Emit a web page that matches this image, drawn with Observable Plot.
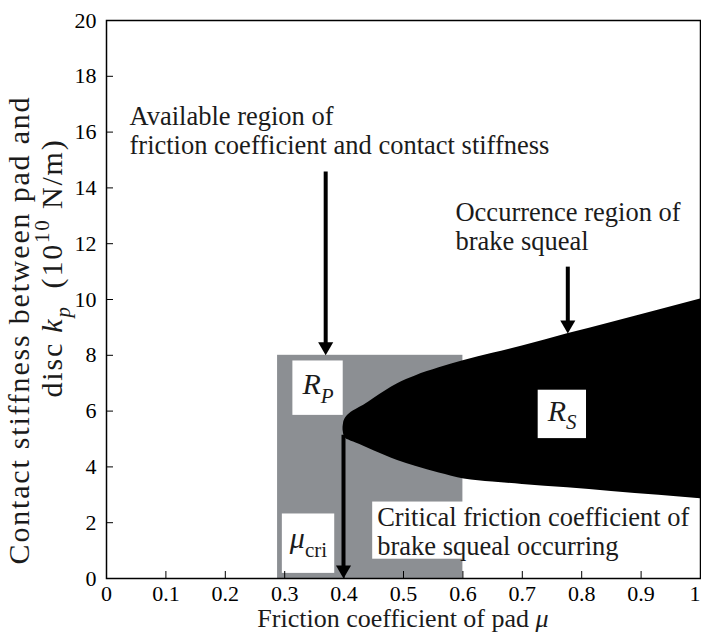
<!DOCTYPE html>
<html>
<head>
<meta charset="utf-8">
<script src="https://cdn.jsdelivr.net/npm/d3@7"></script>
<script src="https://cdn.jsdelivr.net/npm/@observablehq/plot@0.6"></script>
<style>
  html, body { margin: 0; padding: 0; background: #fff; font-family: "Liberation Serif"; }
  #chart { width: 701px; height: 634px; }
</style>
</head>
<body>
<div id="chart"></div>
<script>
// Squeal boundary: friction coefficient μ with upper / lower contact stiffness k_p (10^10 N/m)
const mu     = [0.3982, 0.3990, 0.4005, 0.4030, 0.4070, 0.4120, 0.420, 0.433, 0.450, 0.470, 0.490, 0.520, 0.560, 0.602, 0.650, 0.700, 0.776, 0.850, 0.930, 1.000];
const kUpper = [5.42, 5.56, 5.67, 5.77, 5.87, 5.96, 6.06, 6.21, 6.45, 6.73, 6.98, 7.26, 7.55, 7.81, 8.07, 8.33, 8.77, 9.18, 9.62, 10.02];
const kLower = [5.32, 5.20, 5.10, 5.02, 4.97, 4.92, 4.86, 4.74, 4.58, 4.40, 4.23, 4.02, 3.78, 3.57, 3.46, 3.37, 3.25, 3.12, 2.98, 2.86];

// Available region of the pad (μ range, k_p range)
const padMu = [0.288, 0.600];
const padK  = [0, 8];

// Axis ticks
const xTicks = [0, 0.1, 0.2, 0.3, 0.4, 0.5, 0.6, 0.7, 0.8, 0.9, 1];
const yTicks = [0, 2, 4, 6, 8, 10, 12, 14, 16, 18, 20];

// Pointer arrows (μ position, start k_p, tip k_p)
const arrowMu   = [0.369, 0.7766, 0.399];
const arrowFrom = [14.57, 11.16, 5.13];
const arrowTo   = [8.00, 8.78, 0];

// Explanatory notes (left-aligned, anchored at block middle)
const noteText = [
  "Available region of\nfriction coefficient and contact stiffness",
  "Occurrence region of\nbrake squeal",
  "Critical friction coefficient of\nbrake squeal occurring"
];
const noteMu = [0.0387, 0.5875, 0.4557];
const noteK  = [16.08, 12.64, 1.71];

// Region symbols with subscripts
const symbolMain = ["R", "R", "μ"];
const symbolSub  = ["P", "S", "cri"];
const symbolMu   = [0.356, 0.767, 0.340];
const symbolK    = [6.94, 6.00, 1.42];

// ---- tables for the marks ----
const squeal  = mu.map((m, i) => ({mu: m, upper: kUpper[i], lower: kLower[i]}));
const pad     = [{mu1: padMu[0], mu2: padMu[1], k1: padK[0], k2: padK[1]}];
const arrows  = arrowMu.map((m, i) => ({mu: m, from: arrowFrom[i], to: arrowTo[i]}));
const notes   = noteText.map((t, i) => ({text: t, mu: noteMu[i], k: noteK[i]}));
const symbols = symbolMain.map((t, i) => ({main: t, sub: symbolSub[i], mu: symbolMu[i], k: symbolK[i]}));

const ink = "#1b1b1b";

const plot = Plot.plot({
  width: 701,
  height: 634,
  marginLeft: 106,
  marginRight: 1,
  marginTop: 20,
  marginBottom: 56,
  style: {fontSize: "22px", fontFamily: "Liberation Serif", color: "black", background: "white", overflow: "visible"},
  x: {domain: [0, 1], label: null},
  y: {domain: [0, 20], label: null},
  marks: [
    Plot.rect(pad, {x1: "mu1", x2: "mu2", y1: "k1", y2: "k2", fill: "#8c8f93"}),
    Plot.areaY(squeal, {x: "mu", y1: "lower", y2: "upper", fill: "black", curve: "monotone-x"}),
    Plot.ruleX(arrows, {x: "mu", y1: "from", y2: "to", stroke: "black", strokeWidth: 4, insetBottom: 9}),
    Plot.dot(arrows, {x: "mu", y: "to", symbol: "triangle", rotate: 180, r: 5.6, fill: "black", stroke: "none", dy: -8.7}),
    Plot.text(notes, {x: "mu", y: "k", text: "text", textAnchor: "start", lineAnchor: "middle",
      lineHeight: 1.1, fontSize: 26.5, fill: ink}),
    Plot.text(symbols, {x: "mu", y: "k", text: d => d.main + d.sub, textAnchor: "middle", lineAnchor: "middle",
      fontSize: 30, fill: ink}),
    Plot.frame({stroke: "black", strokeWidth: 1.5}),
    Plot.axisX({ticks: xTicks, tickSize: -7, tickPadding: 14, tickFormat: d => String(d), label: null}),
    Plot.axisY({ticks: yTicks, tickSize: -7, tickPadding: 17, tickFormat: d => String(d), label: null})
  ]
});

document.getElementById("chart").appendChild(plot);
const svg = d3.select(plot);

// Rich text helper: runs of plain / italic / subscript / superscript text
function appendRuns(sel, runs, size) {
  let shift = 0;
  for (const r of runs) {
    const target = r.sub ? 0.28 * size : r.sup ? -0.42 * size : 0;
    const ts = sel.append("tspan").text(r.t).attr("dy", target - shift);
    shift = target;
    if (r.italic) ts.attr("font-style", "italic");
    if (r.sub || r.sup) ts.attr("font-size", Math.round(size * 0.7));
  }
}

// White background box behind a text element (left, right, top, bottom padding)
function boxBehind(textNode, padL, padR, padT, padB) {
  const b = textNode.getBBox();
  const rect = document.createElementNS("http://www.w3.org/2000/svg", "rect");
  rect.setAttribute("x", b.x - padL);
  rect.setAttribute("y", b.y - padT);
  rect.setAttribute("width", b.width + padL + padR);
  rect.setAttribute("height", b.height + padT + padB);
  rect.setAttribute("fill", "white");
  const t = textNode.getAttribute("transform");
  if (t) rect.setAttribute("transform", t);
  textNode.parentNode.insertBefore(rect, textNode);
}

// The two text marks: notes first, then region symbols
const textGroups = svg.selectAll("g[aria-label='text']").nodes();
const noteGroup = d3.select(textGroups[0]);
const symbolGroup = d3.select(textGroups[1]);

// Region symbols: italic letter with subscript, on white boxes
const symbolPad = [[9, 9, 7, 7], [9, 9, 4, 4], [7, 7, 8, 11]];
symbolGroup.selectAll("text").each(function (d, i) {
  const s = symbols[i];
  const sel = d3.select(this).text(null);
  appendRuns(sel, [
    {t: s.main, italic: true},
    {t: s.sub, sub: true, italic: s.main === "R"}
  ], 30);
  boxBehind(this, ...symbolPad[i]);
});

// The critical-coefficient note sits on a white box
noteGroup.selectAll("text").each(function (d, i) {
  if (i === 2) boxBehind(this, 5, 14, 0, -2);
});

// Last x tick label ends at the frame edge
const xLabels = svg.selectAll("g[aria-label='x-axis tick label'] text").nodes();
if (xLabels.length) d3.select(xLabels[xLabels.length - 1]).attr("text-anchor", "end");

// Axis titles
svg.append("text")
  .attr("x", 403).attr("y", 627)
  .attr("text-anchor", "middle")
  .attr("font-size", 26).attr("fill", ink)
  .call(sel => appendRuns(sel, [{t: "Friction coefficient of pad "}, {t: "μ", italic: true}], 26));

svg.append("text")
  .attr("transform", "translate(29,330) rotate(-90)")
  .attr("text-anchor", "middle")
  .attr("font-size", 30).attr("letter-spacing", 1.8).attr("fill", ink)
  .text("Contact stiffness between pad and");

svg.append("text")
  .attr("transform", "translate(62,268) rotate(-90)")
  .attr("text-anchor", "middle")
  .attr("font-size", 30).attr("letter-spacing", 1.8).attr("fill", ink)
  .call(sel => appendRuns(sel, [
    {t: "disc "}, {t: "k", italic: true}, {t: "p", sub: true, italic: true},
    {t: "\u2002(10"}, {t: "10", sup: true}, {t: " N/m)"}
  ], 30));
</script>
</body>
</html>
